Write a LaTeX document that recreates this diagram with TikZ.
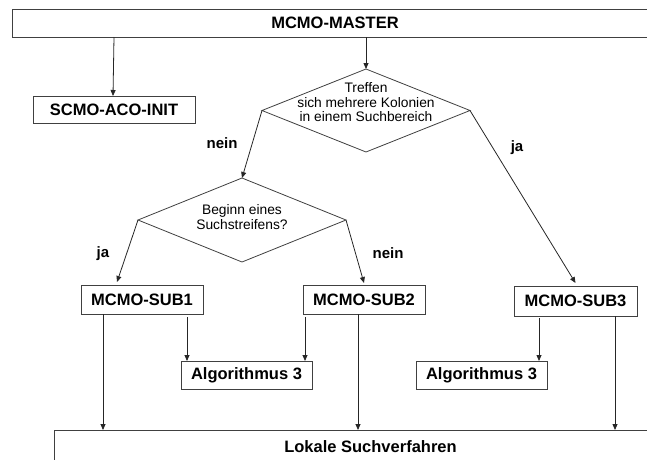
\documentclass[tikz,border=0pt]{standalone}
\usepackage{fontspec}
\setmainfont{Liberation Sans}
\usetikzlibrary{arrows.meta,shapes.geometric}
\begin{document}
\begin{tikzpicture}[x=1pt,y=-1pt,
  line/.style={draw=black!85, line width=0.8pt},
  arr/.style={line, -{Triangle[length=6pt,width=5pt]}},
  box/.style={draw=black!75, line width=0.9pt, rectangle, inner sep=0pt, outer sep=0pt},
  boxtext/.style={font=\fontsize{16.5}{18}\selectfont\bfseries},
  dia/.style={draw=black!75, line width=0.8pt, diamond, inner sep=0pt, outer sep=0pt},
  dtext/.style={align=center, font=\fontsize{13.8}{14.5}\selectfont},
  lab/.style={anchor=base, font=\fontsize{15}{16}\selectfont\bfseries}
]
\useasboundingbox (0,0) rectangle (647,459);
\clip (0,0) rectangle (647,459);

% boxes
\node[box, minimum width=688, minimum height=28] (master) at (356,23) {};
\node[boxtext] (mastertext) at (335,23) {MCMO-MASTER};
\node[box, boxtext, minimum width=162, minimum height=27] (scmo) at (114,109.5) {SCMO-ACO-INIT};
\node[box, boxtext, minimum width=122, minimum height=29] (sub1) at (142,299.5) {MCMO-SUB1};
\node[box, boxtext, minimum width=122, minimum height=29] (sub2) at (364,299.5) {MCMO-SUB2};
\node[box, boxtext, minimum width=123, minimum height=30] (sub3) at (575.5,301) {MCMO-SUB3};
\node[box, boxtext, minimum width=131, minimum height=28] (algL) at (246.5,375) {Algorithmus 3};
\node[box, boxtext, minimum width=131, minimum height=28] (algR) at (481.5,375) {Algorithmus 3};
\node[box, minimum width=646, minimum height=60] (lok) at (377,460) {};
\node[boxtext] (loktext) at (370.5,447) {Lokale Suchverfahren};

% diamonds
\node[dia, minimum width=208, minimum height=83] (d1) at (366,110.5) {};
\node[dtext] (d1text) at (366,102.5) {Treffen\\sich mehrere Kolonien\\in einem Suchbereich};
\node[dia, minimum width=208, minimum height=84] (d2) at (242,220) {};
\node[dtext] (d2text) at (242,217) {Beginn eines\\Suchstreifens?};

% labels
\node[lab] (l1) at (222,148) {nein};
\node[lab] (l2) at (517,151) {ja};
\node[lab] (l3) at (103,257) {ja};
\node[lab] (l4) at (388,258) {nein};

% connectors
\draw[arr] (scmo.north |- master.south) -- ([xshift=-1pt]scmo.north);
\draw[arr] (d1.north |- master.south) -- (d1.north);
\draw[arr] (d1.west) -- (d2.north);
\draw[arr] (d1.east) -- ([yshift=3pt]sub3.north);
\draw[arr] (d2.west) -- ([xshift=-25pt,yshift=3pt]sub1.north);
\draw[arr] (d2.east) -- ([yshift=2pt]sub2.north);

\draw[arr] ([xshift=-39pt]sub1.south) -- ([xshift=-39pt]sub1.south |- lok.north);
\draw[arr] ([xshift=45pt,yshift=-3pt]sub1.south) -- ([xshift=45pt]sub1.south |- algL.north);
\draw[arr] ([xshift=-59pt,yshift=-3pt]sub2.south) -- ([xshift=-59pt]sub2.south |- algL.north);
\draw[arr] ([xshift=-6pt]sub2.south) -- ([xshift=-6pt]sub2.south |- lok.north);
\draw[arr] ([xshift=-36.5pt,yshift=-2pt]sub3.south) -- ([xshift=-36.5pt]sub3.south |- algR.north);
\draw[arr] ([xshift=39.5pt]sub3.south) -- ([xshift=39.5pt]sub3.south |- lok.north);
\end{tikzpicture}
\end{document}
